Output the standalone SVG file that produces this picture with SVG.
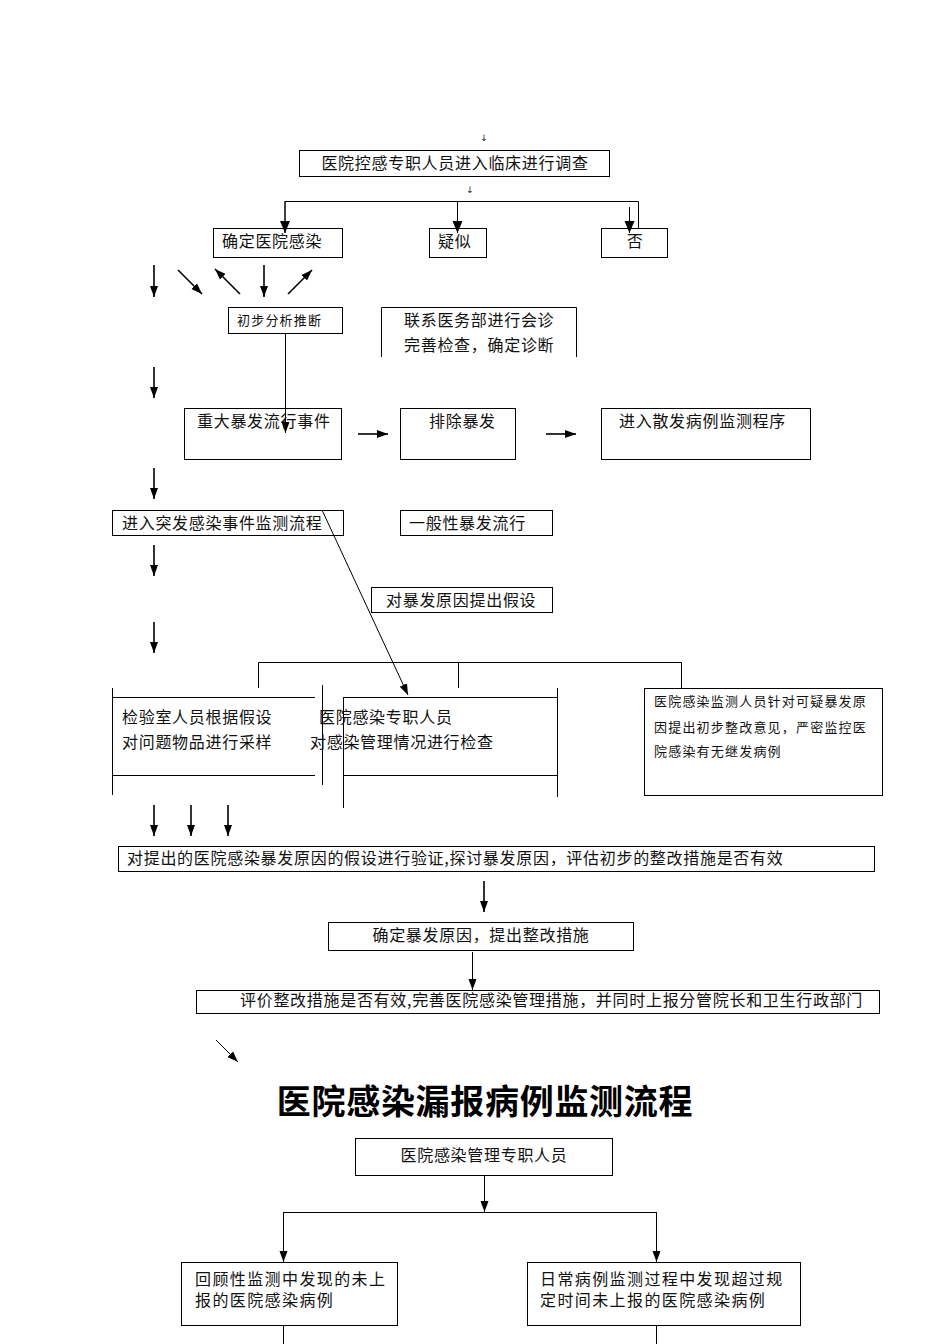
<svg xmlns="http://www.w3.org/2000/svg" width="950" height="1344" viewBox="0 0 950 1344">
<style>
.b{fill:none;stroke:#000;stroke-width:1}
.l{fill:none;stroke:#000;stroke-width:1}
.a{fill:none;stroke:#000;stroke-width:1.6;marker-end:url(#ah)}
.t{font-family:"Noto Sans CJK SC","Liberation Sans",sans-serif;font-size:16px;letter-spacing:0.7px;fill:#111}
.u{font-family:"Noto Sans CJK SC","Liberation Sans",sans-serif;font-size:16px;letter-spacing:1.4px;fill:#111}
.s{font-family:"Noto Sans CJK SC","Liberation Sans",sans-serif;font-size:13px;letter-spacing:1.2px;fill:#111}
.ti{font-family:"Noto Sans CJK SC","Liberation Sans",sans-serif;font-size:34px;letter-spacing:0.7px;font-weight:bold;fill:#000}
.tiny{font-family:"DejaVu Sans",sans-serif;font-size:9px;fill:#222}
</style>
<defs>
<marker id="ah" markerWidth="11" markerHeight="10" refX="11" refY="5" orient="auto" markerUnits="userSpaceOnUse"><path d="M0,1 L11,5 L0,9 z" fill="#000"/></marker>
<marker id="ah2" markerWidth="12" markerHeight="12" refX="12" refY="6" orient="auto" markerUnits="userSpaceOnUse"><path d="M0,1 L12,6 L0,11 z" fill="#000"/></marker>
</defs>
<rect width="950" height="1344" fill="#fff"/>

<g id="connectors">
<text class="tiny" x="484" y="141" text-anchor="middle">↓</text>
<text class="tiny" x="470" y="193" text-anchor="middle">↓</text>
<polyline class="l" points="285,233 285,201.5 638.5,201.5 638.5,228"/>
<line class="l" x1="285" y1="201" x2="285" y2="233" style="marker-end:url(#ah2)"/>
<line class="l" x1="457.5" y1="201" x2="457.5" y2="233" style="marker-end:url(#ah2)"/>
<line class="l" x1="629.5" y1="207" x2="629.5" y2="233" style="marker-end:url(#ah2)"/>
<line class="a" x1="154" y1="265" x2="154" y2="297"/>
<line class="a" x1="178" y1="270" x2="202" y2="294"/>
<line class="a" x1="240" y1="294" x2="215" y2="269"/>
<line class="a" x1="264" y1="265" x2="264" y2="297"/>
<line class="a" x1="288" y1="294" x2="312" y2="270"/>
<line class="l" x1="285.5" y1="333" x2="285.5" y2="433" style="marker-end:url(#ah)"/>
<line class="a" x1="154" y1="367" x2="154" y2="398"/>
<line class="a" x1="358" y1="434" x2="388" y2="434"/>
<line class="a" x1="546" y1="434" x2="576" y2="434"/>
<line class="a" x1="154" y1="468" x2="154" y2="499"/>
<line class="l" x1="322" y1="510" x2="408" y2="695" style="marker-end:url(#ah)"/>
<line class="a" x1="154" y1="545" x2="154" y2="576"/>
<line class="a" x1="154" y1="622" x2="154" y2="653"/>
<polyline class="l" points="258.5,688 258.5,662.5 681.5,662.5 681.5,688"/>
<line class="l" x1="458.5" y1="662" x2="458.5" y2="688"/>
<line class="a" x1="154" y1="805" x2="154" y2="836"/>
<line class="a" x1="191" y1="805" x2="191" y2="836"/>
<line class="a" x1="228" y1="805" x2="228" y2="836"/>
<line class="a" x1="484" y1="881" x2="484" y2="912"/>
<line class="l" x1="472.5" y1="952" x2="472.5" y2="990" style="marker-end:url(#ah)"/>
<line class="l" x1="216" y1="1040" x2="238" y2="1062" style="marker-end:url(#ah)"/>
<line class="l" x1="484.5" y1="1175" x2="484.5" y2="1212" style="marker-end:url(#ah)"/>
<polyline class="l" points="283.5,1262 283.5,1212.5 656.5,1212.5 656.5,1262"/>
<line class="l" x1="283.5" y1="1212" x2="283.5" y2="1262" style="marker-end:url(#ah)"/>
<line class="l" x1="656.5" y1="1212" x2="656.5" y2="1262" style="marker-end:url(#ah)"/>
<line class="l" x1="283.5" y1="1325" x2="283.5" y2="1344"/>
<line class="l" x1="656.5" y1="1325" x2="656.5" y2="1344"/>
</g>

<g id="n1"><rect class="b" x="299.5" y="150.5" width="310" height="26"/><text class="t" x="455" y="169" text-anchor="middle">医院控感专职人员进入临床进行调查</text></g>
<g id="n2"><rect class="b" x="213.5" y="228.5" width="129" height="29"/><text class="t" x="222" y="247">确定医院感染</text></g>
<g id="n3"><rect class="b" x="429.5" y="228.5" width="57" height="29"/><text class="t" x="438" y="247">疑似</text></g>
<g id="n4"><rect class="b" x="601.5" y="228.5" width="66" height="29"/><text class="t" x="635" y="247" text-anchor="middle">否</text></g>
<g id="n5"><rect class="b" x="228.5" y="307.5" width="114" height="26"/><text class="s" x="237" y="325">初步分析推断</text></g>
<g id="n6"><polyline class="l" points="381.5,357 381.5,307.5 576.5,307.5 576.5,357"/><text class="t" x="404" y="326">联系医务部进行会诊</text><text class="t" x="404" y="351">完善检查，确定诊断</text></g>
<g id="n7"><rect class="b" x="184.5" y="408.5" width="157" height="51"/><text class="t" x="197" y="427">重大暴发流行事件</text></g>
<g id="n8"><rect class="b" x="400.5" y="408.5" width="115" height="51"/><text class="t" x="429" y="427">排除暴发</text></g>
<g id="n9"><rect class="b" x="601.5" y="408.5" width="209" height="51"/><text class="t" x="619" y="427">进入散发病例监测程序</text></g>
<g id="n10"><rect class="b" x="112.5" y="510.5" width="231" height="25"/><text class="t" x="122" y="529">进入突发感染事件监测流程</text></g>
<g id="n11"><rect class="b" x="400.5" y="510.5" width="152" height="25"/><text class="t" x="409" y="529">一般性暴发流行</text></g>
<g id="n12"><rect class="b" x="371.5" y="587.5" width="181" height="25"/><text class="t" x="386" y="606">对暴发原因提出假设</text></g>
<g id="n13">
<line class="l" x1="112" y1="697.5" x2="315" y2="697.5"/>
<line class="l" x1="112" y1="775.5" x2="315" y2="775.5"/>
<line class="l" x1="112.5" y1="688" x2="112.5" y2="795"/>
<line class="l" x1="322.5" y1="685" x2="322.5" y2="785"/>
<text class="t" x="122" y="723">检验室人员根据假设</text>
<text class="t" x="122" y="748">对问题物品进行采样</text>
</g>
<g id="n14">
<line class="l" x1="343" y1="697.5" x2="557" y2="697.5"/>
<line class="l" x1="343" y1="775.5" x2="557" y2="775.5"/>
<line class="l" x1="343.5" y1="697" x2="343.5" y2="808"/>
<line class="l" x1="557.5" y1="688" x2="557.5" y2="797"/>
<text class="t" x="319" y="723">医院感染专职人员</text>
<text class="t" x="310" y="748">对感染管理情况进行检查</text>
</g>
<g id="n15"><rect class="b" x="644.5" y="688.5" width="238" height="107"/>
<text class="s" x="654" y="706">医院感染监测人员针对可疑暴发原</text>
<text class="s" x="654" y="732">因提出初步整改意见，严密监控医</text>
<text class="s" x="654" y="756">院感染有无继发病例</text></g>
<g id="n16"><rect class="b" x="118.5" y="846.5" width="756" height="25"/><text class="t" x="127" y="864">对提出的医院感染暴发原因的假设进行验证,探讨暴发原因，评估初步的整改措施是否有效</text></g>
<g id="n17"><rect class="b" x="328.5" y="922.5" width="305" height="28"/><text class="t" x="481" y="941" text-anchor="middle">确定暴发原因，提出整改措施</text></g>
<g id="n18"><rect class="b" x="196.5" y="990.5" width="683" height="23"/><text class="t" x="240" y="1006">评价整改措施是否有效,完善医院感染管理措施，并同时上报分管院长和卫生行政部门</text></g>
<g id="title"><text class="ti" x="485" y="1114" text-anchor="middle">医院感染漏报病例监测流程</text></g>
<g id="n19"><rect class="b" x="355.5" y="1138.5" width="257" height="37"/><text class="t" x="484" y="1161" text-anchor="middle">医院感染管理专职人员</text></g>
<g id="n20"><rect class="b" x="181.5" y="1262.5" width="216" height="63"/><text class="u" x="195" y="1285">回顾性监测中发现的未上</text><text class="u" x="195" y="1306">报的医院感染病例</text></g>
<g id="n21"><rect class="b" x="527.5" y="1262.5" width="273" height="63"/><text class="u" x="540" y="1285">日常病例监测过程中发现超过规</text><text class="u" x="540" y="1306">定时间未上报的医院感染病例</text></g>
</svg>
